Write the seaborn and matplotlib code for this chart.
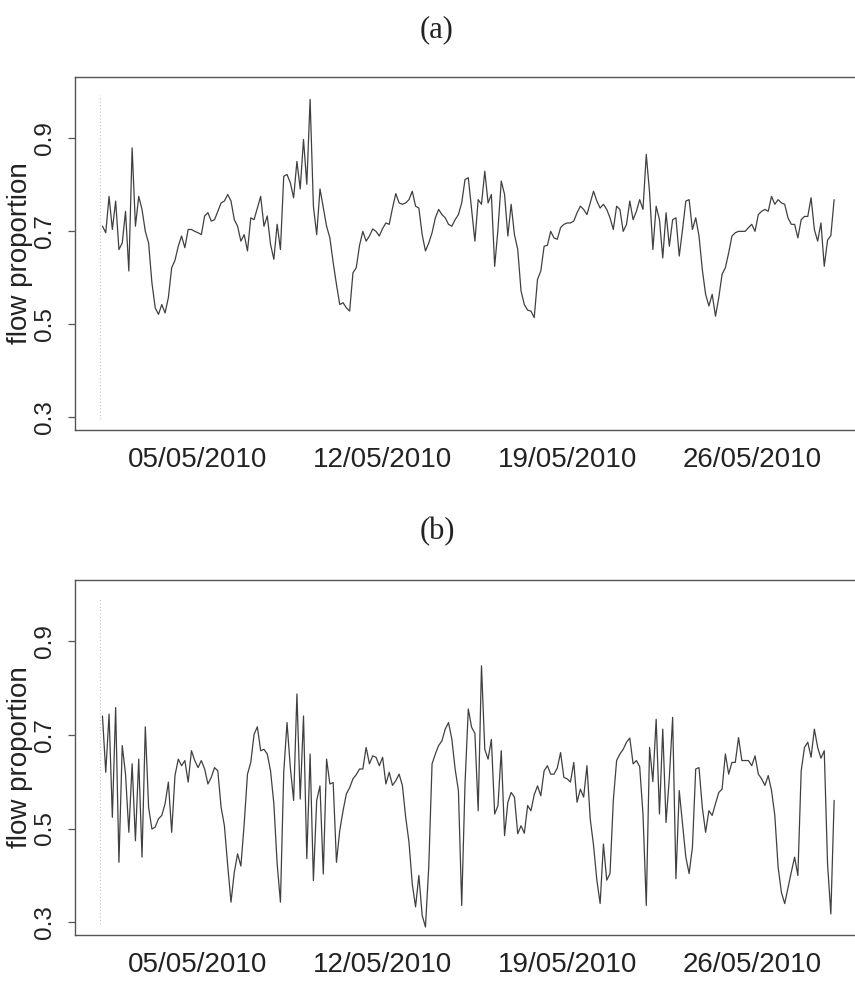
import matplotlib
matplotlib.use("Agg")
import numpy as np
import pandas as pd
import matplotlib.pyplot as plt
import seaborn as sns

# ---------------- data ----------------
start_time = "2010-05-01 09:00"
step = "3h"

flow_a = [
    0.710, 0.696, 0.774, 0.703, 0.764, 0.660, 0.674, 0.742, 0.614, 0.878,
    0.710, 0.774, 0.746, 0.699, 0.674, 0.589, 0.535, 0.521, 0.542, 0.524,
    0.557, 0.621, 0.637, 0.667, 0.689, 0.664, 0.703, 0.703, 0.699, 0.696,
    0.692, 0.732, 0.739, 0.721, 0.724, 0.742, 0.760, 0.764, 0.778, 0.764,
    0.724, 0.710, 0.678, 0.692, 0.657, 0.728, 0.724, 0.749, 0.774, 0.710,
    0.732, 0.671, 0.639, 0.714, 0.660,
    0.817, 0.821, 0.803, 0.771, 0.849,
    0.790, 0.896, 0.800, 0.982, 0.753, 0.692, 0.790, 0.750, 0.710, 0.685,
    0.632, 0.585, 0.542, 0.546, 0.535, 0.528, 0.610, 0.621, 0.669, 0.699,
    0.678, 0.689, 0.704, 0.699, 0.689, 0.705, 0.717, 0.714, 0.749, 0.780,
    0.760, 0.757, 0.760, 0.767, 0.785, 0.753, 0.749, 0.692, 0.657, 0.674,
    0.696, 0.728, 0.746, 0.735, 0.728, 0.714, 0.710, 0.724, 0.735, 0.760,
    0.810, 0.814, 0.746, 0.678, 0.767, 0.757, 0.828, 0.760, 0.778, 0.624,
    0.703, 0.807, 0.778, 0.689, 0.757, 0.692, 0.660, 0.571, 0.542, 0.530,
    0.528, 0.514, 0.596, 0.614, 0.667, 0.669, 0.699, 0.685, 0.682, 0.707,
    0.714, 0.717, 0.717, 0.721, 0.739, 0.753, 0.746, 0.735, 0.760, 0.785,
    0.764, 0.749, 0.757, 0.746, 0.728, 0.703, 0.753, 0.746, 0.699, 0.714,
    0.764, 0.724, 0.742, 0.767, 0.746, 0.864, 0.782, 0.660, 0.753, 0.724,
    0.642, 0.739, 0.667, 0.724, 0.728, 0.646, 0.703, 0.764, 0.767, 0.703,
    0.728, 0.689, 0.617, 0.564, 0.539, 0.564, 0.517, 0.557, 0.607, 0.621,
    0.653, 0.689, 0.696, 0.699, 0.699, 0.699, 0.707, 0.714, 0.699, 0.735,
    0.742, 0.746, 0.742, 0.774, 0.757, 0.767, 0.760, 0.757, 0.728, 0.714,
    0.714, 0.685, 0.724, 0.731, 0.731, 0.771, 0.703, 0.678, 0.717, 0.624,
    0.680, 0.690, 0.767,
]

flow_b = [
    0.740, 0.620, 0.744, 0.524, 0.758, 0.428, 0.677, 0.616, 0.492, 0.638,
    0.474, 0.648, 0.439, 0.717, 0.545, 0.499, 0.503, 0.521, 0.528, 0.553,
    0.599, 0.492, 0.613, 0.648, 0.634, 0.645, 0.599, 0.666, 0.645, 0.630,
    0.645, 0.627, 0.595, 0.609, 0.630, 0.623, 0.545, 0.506, 0.421, 0.343,
    0.407, 0.446, 0.420, 0.510, 0.616, 0.641, 0.701, 0.717, 0.666, 0.669,
    0.659, 0.623, 0.553, 0.425, 0.343,
    0.620, 0.726, 0.630, 0.560, 0.787,
    0.563, 0.740, 0.436, 0.659, 0.389, 0.560, 0.591, 0.403, 0.648, 0.595,
    0.598, 0.428, 0.496, 0.538, 0.574, 0.587, 0.606, 0.615, 0.627, 0.627,
    0.673, 0.638, 0.655, 0.652, 0.634, 0.652, 0.595, 0.620, 0.592, 0.602,
    0.616, 0.592, 0.524, 0.471, 0.382, 0.333, 0.400, 0.315, 0.290, 0.418,
    0.638, 0.659, 0.677, 0.687, 0.712, 0.726, 0.691, 0.627, 0.581, 0.336,
    0.595, 0.755, 0.716, 0.703, 0.538, 0.847, 0.669, 0.648, 0.690, 0.531,
    0.549, 0.666, 0.485, 0.556, 0.577, 0.567, 0.489, 0.506, 0.490, 0.549,
    0.538, 0.572, 0.591, 0.570, 0.623, 0.634, 0.616, 0.616, 0.629, 0.662,
    0.609, 0.606, 0.599, 0.641, 0.556, 0.584, 0.567, 0.634, 0.520, 0.464,
    0.390, 0.340, 0.467, 0.390, 0.404, 0.560, 0.645, 0.659, 0.669, 0.684,
    0.693, 0.638, 0.645, 0.632, 0.531, 0.336, 0.673, 0.600, 0.733, 0.531,
    0.712, 0.513, 0.609, 0.737, 0.393, 0.581, 0.510, 0.439, 0.404, 0.460,
    0.627, 0.630, 0.545, 0.492, 0.538, 0.528, 0.553, 0.577, 0.584, 0.659,
    0.616, 0.641, 0.641, 0.694, 0.645, 0.645, 0.645, 0.634, 0.655, 0.616,
    0.606, 0.592, 0.613, 0.581, 0.528, 0.418, 0.364, 0.340, 0.374, 0.407,
    0.439, 0.400, 0.623, 0.673, 0.684, 0.652, 0.712, 0.673, 0.650, 0.666,
    0.425, 0.318, 0.560,
]

panel_titles = ["(a)", "(b)"]
tick_dates = ["2010-05-05", "2010-05-12", "2010-05-19", "2010-05-26"]
y_ticks = [0.3, 0.5, 0.7, 0.9]
y_label = "flow proportion"

# ---------------- style ----------------
sns.set_theme(style="white")
plt.rcParams["font.family"] = ["Liberation Sans", "DejaVu Sans"]

W, H = 855, 981
fig = plt.figure(figsize=(W / 100, H / 100), dpi=100)
fig.patch.set_facecolor("white")


def px_axes(left, top, right, bottom):
    return fig.add_axes([left / W, 1 - bottom / H, (right - left) / W, (bottom - top) / H])


layout = [(77, 430, 30), (580, 935, 532)]
series = [flow_a, flow_b]

for vals, title, (top, bottom, title_y) in zip(series, panel_titles, layout):
    ax = px_axes(75, top, 866, bottom)
    ax.set_facecolor("white")
    times = pd.date_range(start_time, periods=len(vals), freq=step)
    df = pd.DataFrame({"time": times, "flow": vals})

    ax.axvline(times[0] - pd.Timedelta(hours=2), color="#c4c4c4", lw=0.8,
               ls=(0, (1, 2)), ymin=0.03, ymax=0.95, zorder=0)
    sns.lineplot(data=df, x="time", y="flow", ax=ax, color="#404040",
                 lw=0.9, legend=False)

    ax.set_xlim(pd.Timestamp("2010-04-30 08:00"), pd.Timestamp("2010-05-30 08:00"))
    ax.set_ylim(0.273, 1.03)

    ax.set_xticks([pd.Timestamp(d) for d in tick_dates])
    ax.set_xticklabels([pd.Timestamp(d).strftime("%d/%m/%Y") for d in tick_dates],
                       fontsize=20, color="#222222")
    ax.set_yticks(y_ticks)
    ax.set_yticklabels([f"{v:.1f}" for v in y_ticks], rotation=90, va="center",
                       fontsize=17.5, color="#222222")
    ax.tick_params(axis="x", length=0, pad=12)
    ax.tick_params(axis="y", length=5, width=0.9, color="#555555", pad=9,
                   left=True)

    ax.set_xlabel("")
    ax.set_ylabel(y_label, fontsize=20, color="#222222")
    ax.yaxis.set_label_coords(-0.053, 0.5)

    for side in ["left", "bottom", "top"]:
        ax.spines[side].set_visible(True)
        ax.spines[side].set_color("#555555")
        ax.spines[side].set_linewidth(1.0)
    ax.spines["right"].set_visible(False)

    fig.text(437 / W, 1 - title_y / H, title, ha="center", va="center",
             fontsize=22, family=["Liberation Serif", "DejaVu Serif"], color="#222222")

fig.savefig("out.png", dpi=100, facecolor="white")
